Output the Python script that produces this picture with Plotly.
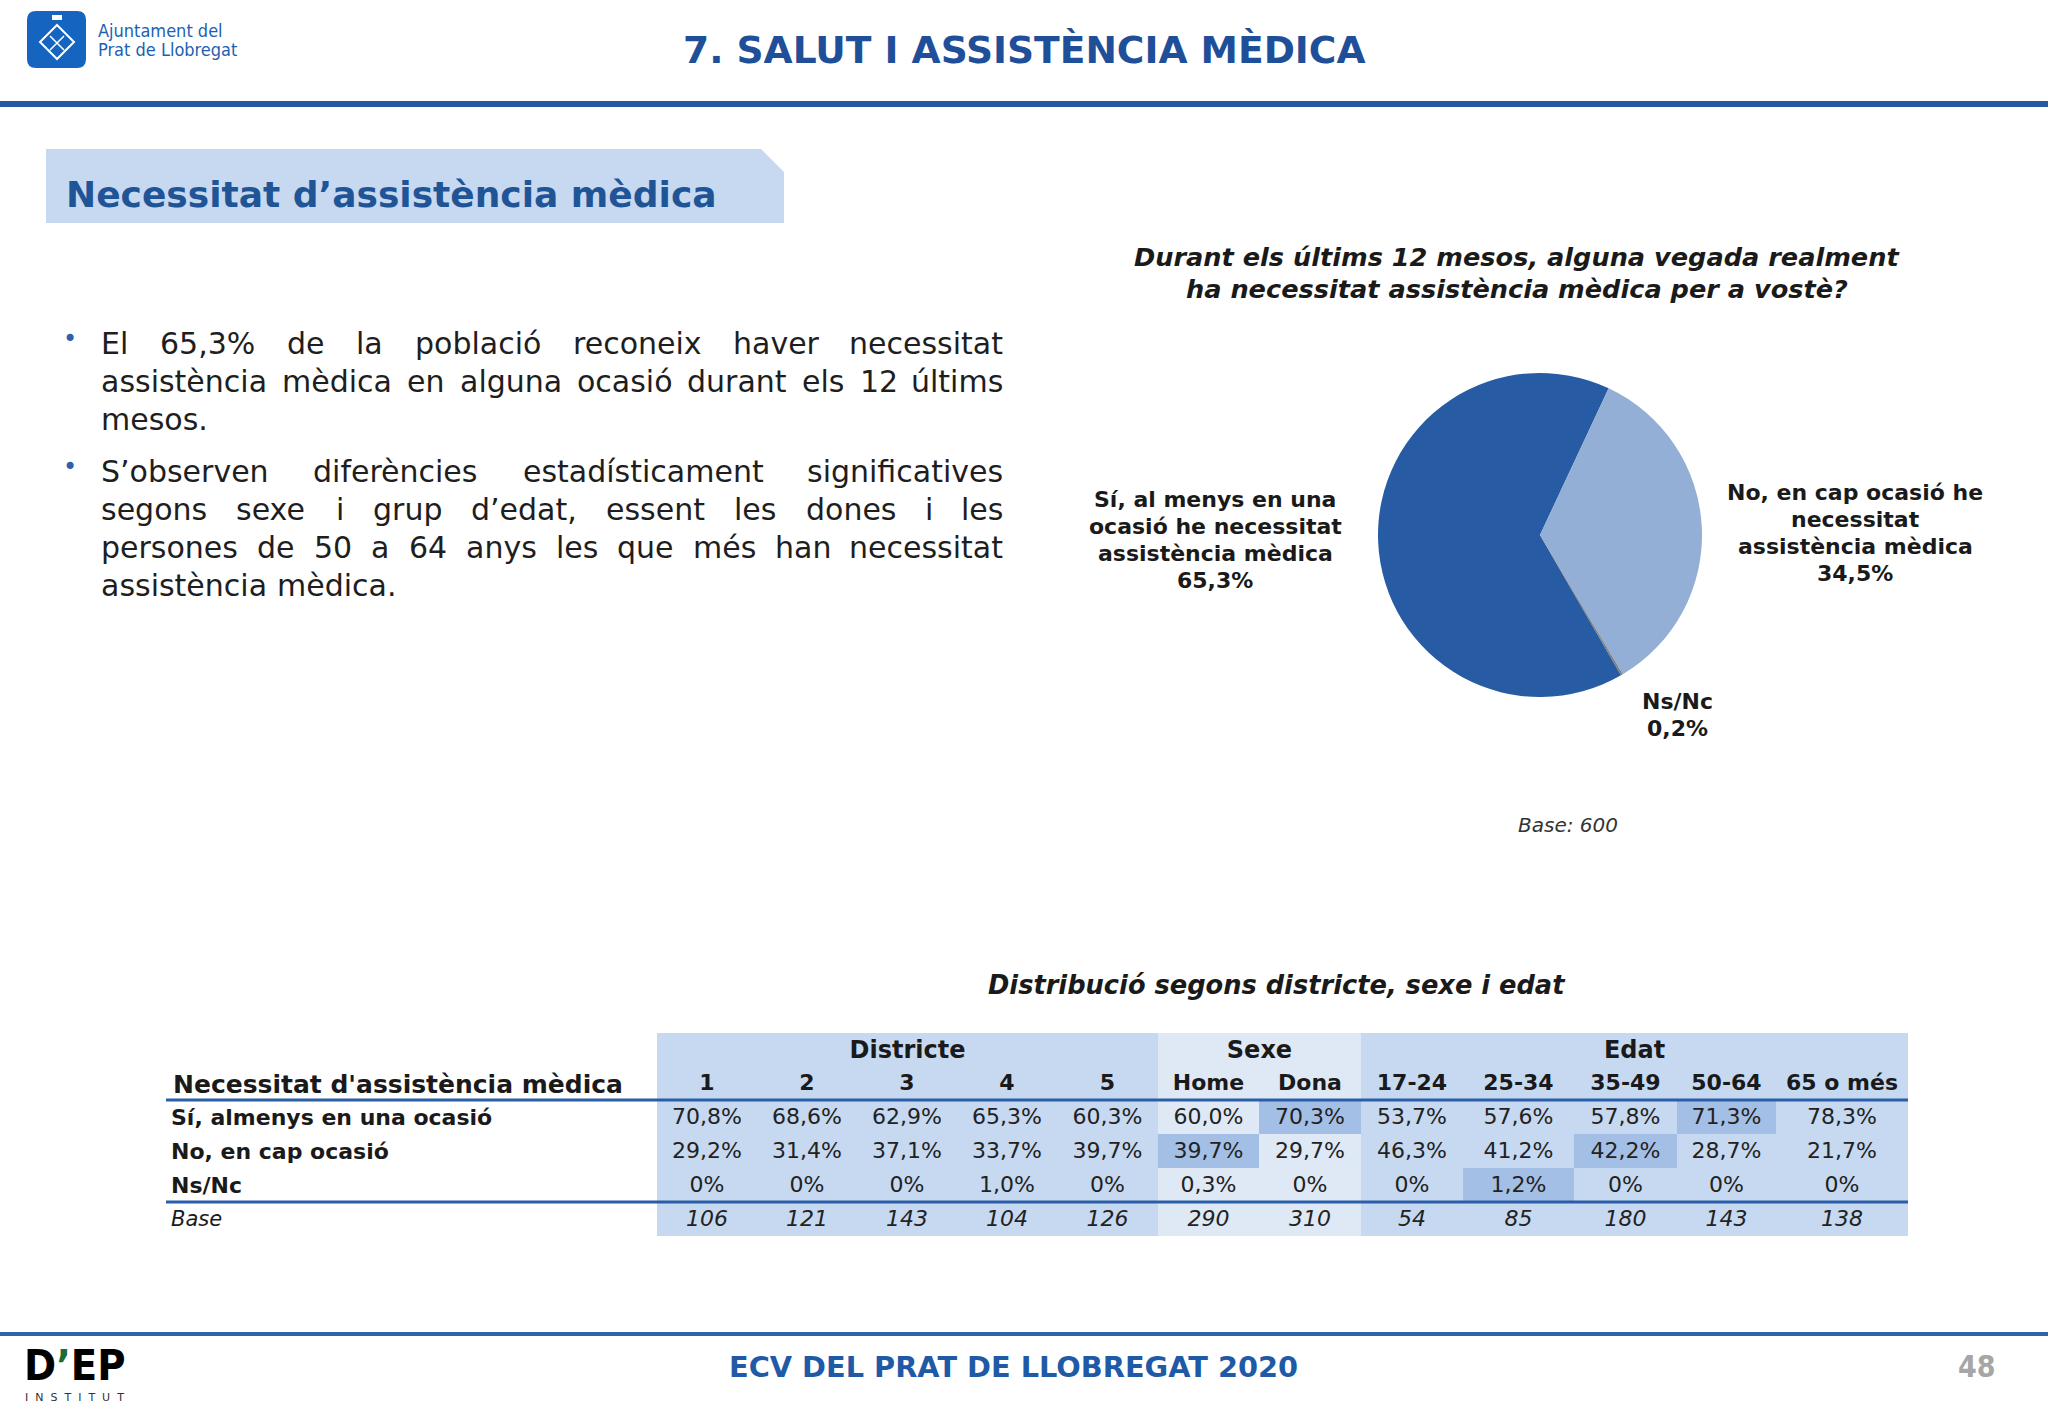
import plotly.graph_objects as go

# ------------------------------------------------------------------ data
pie_labels = ["Sí, al menys en una<br>ocasió he necessitat<br>assistència mèdica",
              "No, en cap ocasió he<br>necessitat<br>assistència mèdica",
              "Ns/Nc"]
pie_values = [65.3, 34.5, 0.2]
pie_base = 600

table_row_labels = ["Sí, almenys en una ocasió", "No, en cap ocasió", "Ns/Nc"]
table_groups = ["Districte", "Sexe", "Edat"]
group_sizes = [5, 2, 5]
table_cols = ["1", "2", "3", "4", "5", "Home", "Dona",
              "17-24", "25-34", "35-49", "50-64", "65 o més"]
si_vals = [70.8, 68.6, 62.9, 65.3, 60.3, 60.0, 70.3, 53.7, 57.6, 57.8, 71.3, 78.3]
no_vals = [29.2, 31.4, 37.1, 33.7, 39.7, 39.7, 29.7, 46.3, 41.2, 42.2, 28.7, 21.7]
nsnc_vals = [0, 0, 0, 1.0, 0, 0.3, 0, 0, 1.2, 0, 0, 0]
base_vals = [106, 121, 143, 104, 126, 290, 310, 54, 85, 180, 143, 138]
# significant (highlighted) cells
sig_si = [0, 0, 0, 0, 0, 0, 1, 0, 0, 0, 1, 0]
sig_no = [0, 0, 0, 0, 0, 1, 0, 0, 0, 1, 0, 0]
sig_nsnc = [0, 0, 0, 0, 0, 0, 0, 0, 1, 0, 0, 0]

bullet_paragraphs = [
    ["El 65,3% de la població reconeix haver necessitat",
     "assistència mèdica en alguna ocasió durant els 12 últims",
     "mesos."],
    ["S’observen diferències estadísticament significatives",
     "segons sexe i grup d’edat, essent les dones i les",
     "persones de 50 a 64 anys les que més han necessitat",
     "assistència mèdica."],
]

# ------------------------------------------------------------------ layout constants
W, H = 2048, 1418
FONT = "DejaVu Sans"
COND = "DejaVu Sans Condensed, Liberation Sans"
BLUE_LINE = "#2a5ea8"
TITLE_BLUE = "#1f4f99"
TXT = "#1a1a1a"

col_x0 = 657
col_widths = [100, 100, 100, 100, 101, 101, 102, 102, 111, 103, 99, 132]
row_edges = [1033, 1067, 1100, 1134, 1168, 1202, 1236]
table_left = 166
C_BASE, C_SEXE, C_SIG = "#c6d9f1", "#dfe8f5", "#a4bfe6"

BODY_SIZE = 30
TEXT_L, TEXT_R = 100, 1004
para_line_y = [[343, 381, 419], [471, 509, 547, 585]]

# DejaVu Sans advance widths (em)
CW = {" ": 0.318, "a": .613, "b": .635, "c": .550, "d": .635, "e": .615, "f": .352,
      "g": .635, "h": .634, "i": .278, "j": .278, "k": .579, "l": .278, "m": .974,
      "n": .634, "o": .612, "p": .635, "q": .635, "r": .411, "s": .521, "t": .392,
      "u": .634, "v": .592, "w": .818, "x": .592, "y": .592, "z": .525, "%": .950,
      ",": .318, ".": .318, "’": .318, "E": .632, "S": .635, "è": .615, "é": .615,
      "í": .278, "ó": .612, "ú": .634, "ò": .612}
for d in "0123456789":
    CW[d] = .636


def text_w(s, size):
    return sum(CW.get(ch, 0.6) for ch in s) * size


def pct(v):
    return "0%" if v == 0 else f"{v:.1f}".replace(".", ",") + "%"


annotations = []


def ann(text, x, y, size, color=TXT, xanchor="center", yanchor="middle",
        family=FONT, align="center"):
    annotations.append(dict(text=text, x=x, y=y, xref="x", yref="y",
                            xanchor=xanchor, yanchor=yanchor, showarrow=False,
                            align=align, borderpad=0,
                            font=dict(family=family, size=size, color=color)))


fig = go.Figure()

# ------------------------------------------------------------------ pie
cx, cy, r = 1540, 535, 162
fig.add_trace(go.Pie(
    labels=[l.replace("<br>", " ") for l in pie_labels], values=pie_values,
    sort=False, direction="clockwise", rotation=150,
    marker=dict(colors=["#275ca5", "#93afd5", "#7f7f7f"], line=dict(width=0)),
    textinfo="none", hoverinfo="skip", showlegend=False,
    domain=dict(x=[(cx - r) / W, (cx + r) / W], y=[(H - cy - r) / H, (H - cy + r) / H])))

pie_label_pos = [(1215, 499), (1855, 492), (1677, 701)]
PIE_LINE = 27
for lab, val, (lx, ly) in zip(pie_labels, pie_values, pie_label_pos):
    lines = lab.split("<br>") + [pct(val)]
    for k, ln in enumerate(lines):
        ann(f"<b>{ln}</b>", lx, ly + k * PIE_LINE, 22)

ann("<b><i>Durant els últims 12 mesos, alguna vegada realment</i></b>", 1517, 257, 25.6)
ann("<b><i>ha necessitat assistència mèdica per a vostè?</i></b>", 1517, 289, 25.6)
ann(f"<i>Base: {pie_base}</i>", 1568, 825, 20, color="#333333")

# ------------------------------------------------------------------ table
col_edges = [col_x0]
for w in col_widths:
    col_edges.append(col_edges[-1] + w)
col_centers = [(a + b) / 2 for a, b in zip(col_edges[:-1], col_edges[1:])]
row_centers = [(a + b) / 2 for a, b in zip(row_edges[:-1], row_edges[1:])]

group_of_col = []
for gi, n in enumerate(group_sizes):
    group_of_col += [gi] * n
base_level = [1 if table_groups[g] == "Sexe" else 0 for g in group_of_col]
z = [base_level[:], base_level[:]]
for srow in [sig_si, sig_no, sig_nsnc]:
    z.append([2 if s else b for s, b in zip(srow, base_level)])
z.append(base_level[:])

fig.add_trace(go.Heatmap(
    x=col_edges, y=row_edges, z=z, zmin=0, zmax=2,
    colorscale=[[0, C_BASE], [0.25, C_BASE], [0.25, C_SEXE], [0.75, C_SEXE],
                [0.75, C_SIG], [1, C_SIG]],
    showscale=False, hoverinfo="skip", xgap=0, ygap=0))

# group headers
start = 0
gx = []
for n in group_sizes:
    gx.append((col_edges[start] + col_edges[start + n]) / 2)
    start += n
fig.add_trace(go.Scatter(x=gx, y=[row_centers[0] + 2] * len(gx), mode="text",
                         text=[f"<b>{g}</b>" for g in table_groups],
                         textfont=dict(family=FONT, size=24, color=TXT),
                         hoverinfo="skip", showlegend=False, cliponaxis=False))
fig.add_trace(go.Scatter(x=col_centers, y=[row_centers[1] + 1] * len(col_centers), mode="text",
                         text=[f"<b>{c}</b>" for c in table_cols],
                         textfont=dict(family=FONT, size=22, color=TXT),
                         hoverinfo="skip", showlegend=False, cliponaxis=False))
for ri, vals in enumerate([si_vals, no_vals, nsnc_vals]):
    fig.add_trace(go.Scatter(x=col_centers, y=[row_centers[2 + ri] + 1] * len(vals), mode="text",
                             text=[pct(v) for v in vals],
                             textfont=dict(family=FONT, size=22, color="#222222"),
                             hoverinfo="skip", showlegend=False, cliponaxis=False))
fig.add_trace(go.Scatter(x=col_centers, y=[row_centers[5] + 1] * len(base_vals), mode="text",
                         text=[f"<i>{v}</i>" for v in base_vals],
                         textfont=dict(family=FONT, size=22, color="#222222"),
                         hoverinfo="skip", showlegend=False, cliponaxis=False))

ann("<b>Necessitat d'assistència mèdica</b>", 172, row_centers[1] + 1, 25, xanchor="left")
for ri, lab in enumerate(table_row_labels):
    ann(f"<b>{lab}</b>", 170, row_centers[2 + ri], 22, xanchor="left")
ann("<i>Base</i>", 170, row_centers[5], 21, xanchor="left")
ann("<b><i>Distribució segons districte, sexe i edat</i></b>", 1277, 985, 25.7)

# ------------------------------------------------------------------ bullets (justified)
for para, ys in zip(bullet_paragraphs, para_line_y):
    ann("•", 70, ys[0] - 4, 24, color="#2a62b0")
    for li, (line, y) in enumerate(zip(para, ys)):
        words = line.split(" ")
        justify = li < len(para) - 1 and len(words) > 1
        widths = [text_w(w, BODY_SIZE) for w in words]
        gap = (TEXT_R - TEXT_L - sum(widths)) / (len(words) - 1) if justify else CW[" "] * BODY_SIZE
        x = TEXT_L
        for wi, (wd, ww) in enumerate(zip(words, widths)):
            if justify and wi == len(words) - 1:
                ann(wd, TEXT_R, y, BODY_SIZE, color="#1e1e1e", xanchor="right")
            else:
                ann(wd, x, y, BODY_SIZE, color="#1e1e1e", xanchor="left")
            x += ww + gap

# ------------------------------------------------------------------ header / footer texts
ann("<b>7. SALUT I ASSISTÈNCIA MÈDICA</b>", 1024, 50, 37.6, color=TITLE_BLUE)
ann("<b>Necessitat d’assistència mèdica</b>", 65, 194, 36, color="#1f5597", xanchor="left")
ann("Ajuntament del", 97, 30, 18, color="#1c5fb3", xanchor="left", family=COND)
ann("Prat de Llobregat", 97, 49, 18, color="#1c5fb3", xanchor="left", family=COND)
ann("<b>ECV DEL PRAT DE LLOBREGAT 2020</b>", 1013, 1367, 28.8, color="#1f5aa6")
ann("<b>48</b>", 1977, 1366, 30, color="#a6a6a6", family=COND)
ann("<b>D<span style='color:#1e6b3a'>’</span>EP</b>", 23, 1365, 43, color="#000000",
    xanchor="left", family=COND)
ann("I&nbsp;&nbsp;N&nbsp;&nbsp;S&nbsp;&nbsp;T&nbsp;&nbsp;I&nbsp;&nbsp;T&nbsp;&nbsp;U&nbsp;&nbsp;T",
    24, 1397, 11, color="#333333", xanchor="left")

# ------------------------------------------------------------------ shapes
shapes = []
x0, x1, y0, y1, rr = 27, 86, 11, 68, 9
shapes.append(dict(type="path", xref="x", yref="y", line=dict(width=0), fillcolor="#1464c0",
                   path=f"M{x0+rr},{y0} L{x1-rr},{y0} Q{x1},{y0} {x1},{y0+rr} L{x1},{y1-rr} "
                        f"Q{x1},{y1} {x1-rr},{y1} L{x0+rr},{y1} Q{x0},{y1} {x0},{y1-rr} "
                        f"L{x0},{y0+rr} Q{x0},{y0} {x0+rr},{y0} Z"))
shapes.append(dict(type="path", xref="x", yref="y", line=dict(width=2, color="white"),
                   path="M57,25 L74,42 L57,59 L40,42 Z"))
shapes.append(dict(type="path", xref="x", yref="y", line=dict(width=1.5, color="white"),
                   path="M50,36 L64,50 M64,36 L50,50"))
shapes.append(dict(type="rect", xref="x", yref="y", x0=52, x1=62, y0=15, y1=20,
                   line=dict(width=0), fillcolor="white"))
# header rule
shapes.append(dict(type="line", xref="x", yref="y", x0=0, x1=W, y0=104, y1=104,
                   line=dict(width=6, color="#2559a4")))
# subtitle box
shapes.append(dict(type="path", xref="x", yref="y", line=dict(width=0), fillcolor="#c6d9f1",
                   path="M46,149 L761,149 L784,172 L784,223 L46,223 Z", layer="below"))
# table rules
for yy in (row_edges[2], row_edges[5]):
    shapes.append(dict(type="line", xref="x", yref="y", x0=table_left, x1=col_edges[-1],
                       y0=yy, y1=yy, line=dict(width=3, color=BLUE_LINE)))
# footer rule
shapes.append(dict(type="line", xref="x", yref="y", x0=0, x1=W, y0=1334, y1=1334,
                   line=dict(width=4, color="#2e64ad")))

fig.update_layout(
    width=W, height=H, margin=dict(l=0, r=0, t=0, b=0),
    paper_bgcolor="white", plot_bgcolor="rgba(0,0,0,0)",
    xaxis=dict(range=[0, W], visible=False, domain=[0, 1], fixedrange=True),
    yaxis=dict(range=[H, 0], visible=False, domain=[0, 1], fixedrange=True),
    font=dict(family=FONT, color=TXT), showlegend=False,
    annotations=annotations, shapes=shapes)

fig.write_html("out.html", config={"displayModeBar": False},
               post_script="document.body.style.margin='0';document.body.style.overflow='hidden';")
